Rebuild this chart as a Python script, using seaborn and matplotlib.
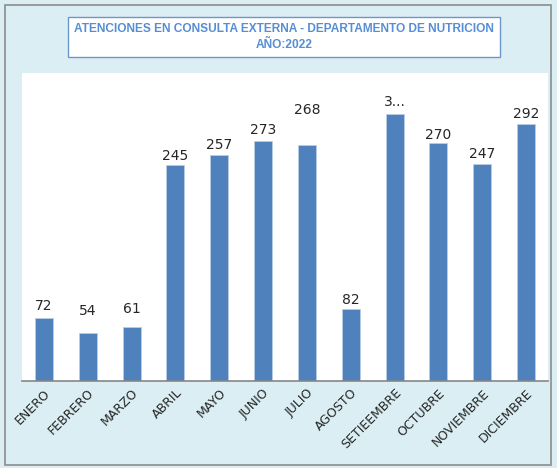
import matplotlib
matplotlib.use("Agg")
import matplotlib.pyplot as plt
import seaborn as sns
import pandas as pd
from matplotlib.patches import Rectangle

months = ["ENERO", "FEBRERO", "MARZO", "ABRIL", "MAYO", "JUNIO", "JULIO",
          "AGOSTO", "SETIEEMBRE", "OCTUBRE", "NOVIEMBRE", "DICIEMBRE"]
values = [72, 54, 61, 245, 257, 273, 268, 82, 303, 270, 247, 292]
labels = ["72", "54", "61", "245", "257", "273", "268", "82", "3...", "270", "247", "292"]
# vertical label offsets in points (style)
label_offsets = [3, 11, 8, 2, 2, 3, 20, 1, 4, 1, 2, 2]
title = "ATENCIONES EN CONSULTA EXTERNA - DEPARTAMENTO DE NUTRICION\nAÑO:2022"

sns.set_theme(style="white")
plt.rcParams['font.family'] = ['DejaVu Sans']

df = pd.DataFrame({"mes": months, "valor": values})

fig = plt.figure(figsize=(5.57, 4.68), dpi=100)
fig.patch.set_facecolor("#DAEEF3")
ax = fig.add_axes([22/557, 1 - 381/468, (548 - 22)/557, (381 - 73)/468])
ax.set_facecolor("white")

sns.barplot(data=df, x="mes", y="valor", color="#4F81BD", saturation=1,
            width=0.41, ax=ax)
for p in ax.patches:
    p.set_edgecolor("#B9CDE5")
    p.set_linewidth(0.6)

ax.set_ylim(0, 350)
ax.set_xlim(-0.5, 11.5)
ax.set_xlabel("")
ax.set_ylabel("")
ax.set_yticks([])
for s in ["top", "right", "left"]:
    ax.spines[s].set_visible(False)
ax.spines["bottom"].set_color("#868686")
ax.spines["bottom"].set_linewidth(1.2)
ax.tick_params(axis="x", length=0, pad=4)
plt.setp(ax.get_xticklabels(), rotation=45, ha="right", rotation_mode="anchor",
         fontsize=9, color="#262626")

for i, (v, lab, off) in enumerate(zip(values, labels, label_offsets)):
    ax.annotate(lab, (i, v), xytext=(0, off), textcoords="offset points",
                ha="center", va="bottom", fontsize=10, color="#262626")

# title box
fig.text(284/557, 1 - 37/468, title, ha="center", va="center",
         fontsize=8.6, fontweight="bold", color="#558ED5", linespacing=1.55,
         family=["Liberation Sans", "DejaVu Sans"],
         bbox=dict(boxstyle="square,pad=0.5", facecolor="white",
                   edgecolor="#6C97CD", linewidth=1.0))

# outer border
fig.patches.append(Rectangle((5/557, 3/468), 546/557, 460/468,
                             transform=fig.transFigure, fill=False,
                             edgecolor="#8C8C8C", linewidth=1.2))

fig.savefig("out.png", dpi=100, facecolor=fig.get_facecolor())
